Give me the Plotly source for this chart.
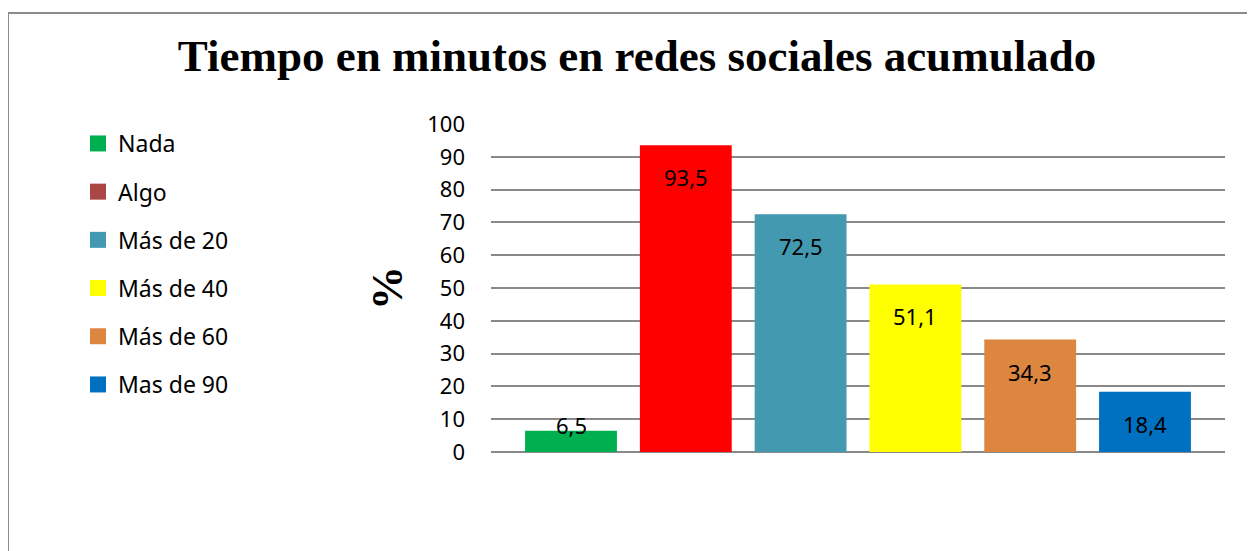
import plotly.graph_objects as go

categories = ["Nada", "Algo", "Más de 20", "Más de 40", "Más de 60", "Mas de 90"]
values = [6.5, 93.5, 72.5, 51.1, 34.3, 18.4]
colors = ["#00B050", "#FF0000", "#4399B0", "#FFFF00", "#DD8640", "#0070C0"]
legend_colors = ["#00B050", "#AA4643", "#4399B0", "#FFFF00", "#DD8640", "#0070C0"]
y_ticks = [0, 10, 20, 30, 40, 50, 60, 70, 80, 90, 100]

W, H = 1255, 551
L, T, pw, ph = 483, 116, 734, 328
R, B = W - L - pw, H - T - ph

fig = go.Figure()
for i, (c, v) in enumerate(zip(categories, values)):
    fig.add_trace(go.Bar(
        x=[c], y=[v], name=c, width=0.8,
        marker=dict(color=colors[i], line=dict(width=0)),
        legendgroup=c, showlegend=False, hoverinfo="skip",
    ))
    # legend entry (square swatch)
    fig.add_trace(go.Scatter(
        x=[None], y=[None], name=c, mode="markers",
        marker=dict(color=legend_colors[i], symbol="square", size=16, line=dict(width=0)),
        legendgroup=c, showlegend=True,
    ))
    fig.add_annotation(
        x=c, y=v, text=f"{v:.1f}".replace(".", ","), showarrow=False,
        yshift=(6 if v < 10 else -32), yanchor="middle",
        font=dict(family="Noto Sans", size=22, color="black"),
    )

fig.update_layout(
    width=W, height=H,
    margin=dict(l=L, r=R, t=T, b=B, autoexpand=False),
    barmode="overlay",
    paper_bgcolor="white", plot_bgcolor="white",
    separators=",.",
    title=dict(
        text="<b>Tiempo en minutos en redes sociales acumulado</b>",
        x=(629 - L) / pw, xref="paper", xanchor="center",
        y=(H - 47) / H, yanchor="middle",
        font=dict(family="Liberation Serif", size=45, color="black"),
    ),
    legend=dict(
        x=(70 - L) / pw, xanchor="left", y=1 - (114 - T) / ph, yanchor="top",
        font=dict(family="Noto Sans", size=23, color="black"),
        tracegroupgap=15.3, bgcolor="rgba(0,0,0,0)", maxheight=600,
        itemclick=False, itemdoubleclick=False,
    ),
    xaxis=dict(
        categoryorder="array", categoryarray=categories,
        showticklabels=False, showgrid=False, zeroline=False,
        showline=False, range=[-0.697, 5.697],
    ),
    yaxis=dict(
        range=[0, 100], tickvals=y_ticks, ticktext=[str(t) for t in y_ticks],
        showgrid=True, gridcolor="#898989", gridwidth=1.5,
        zeroline=True, zerolinecolor="#898989", zerolinewidth=1.5,
        showline=False, ticks="", ticklabelstandoff=25,
        tickfont=dict(family="Noto Sans", size=22, color="black"),
        title=dict(text="<b>%</b>", standoff=10,
                   font=dict(family="Liberation Serif", size=44, color="black")),
    ),
    shapes=[dict(
        type="rect", xref="paper", yref="paper",
        x0=(0 - L) / pw, x1=(W + 20 - L) / pw,
        y0=-(H + 20 - (T + ph)) / ph, y1=1 + (T - 5) / ph,
        line=dict(color="#8C8C8C", width=2), fillcolor="rgba(0,0,0,0)", layer="below",
    )],
)

fig.write_html("out.html")
